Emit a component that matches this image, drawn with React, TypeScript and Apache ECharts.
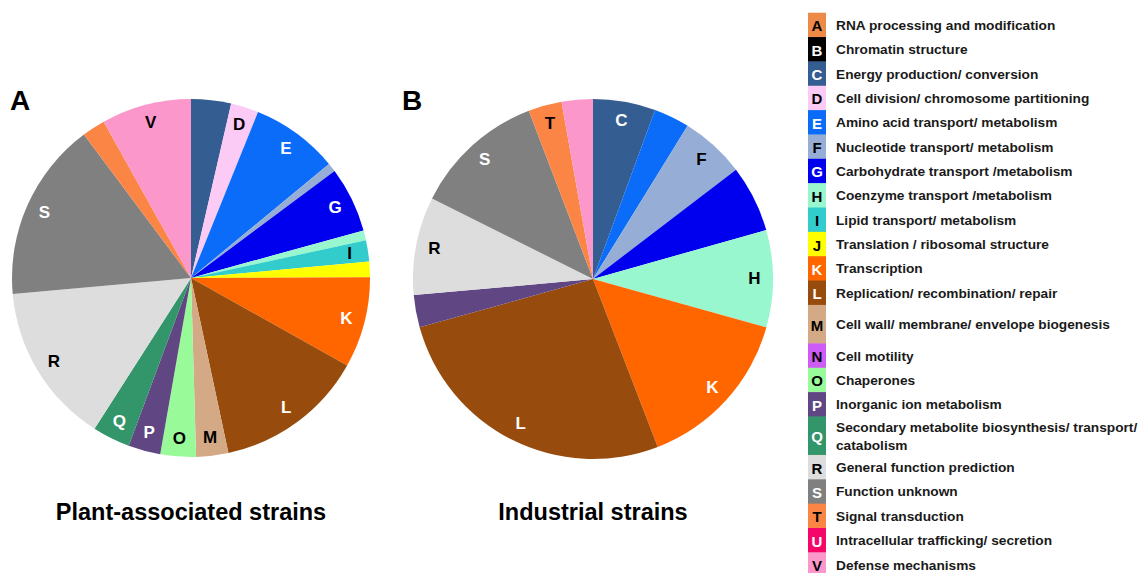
import React, { useEffect, useRef } from "react";
import * as echarts from "echarts";

// COG functional categories (legend order)
const cogCodes = ["A", "B", "C", "D", "E", "F", "G", "H", "I", "J", "K", "L", "M", "N", "O", "P", "Q", "R", "S", "T", "U", "V"];
const cogNames = [
  "RNA processing and modification",
  "Chromatin structure",
  "Energy production/ conversion",
  "Cell division/ chromosome partitioning",
  "Amino acid transport/ metabolism",
  "Nucleotide transport/ metabolism",
  "Carbohydrate transport /metabolism",
  "Coenzyme transport /metabolism",
  "Lipid transport/ metabolism",
  "Translation / ribosomal structure",
  "Transcription",
  "Replication/ recombination/ repair",
  "Cell wall/ membrane/ envelope biogenesis",
  "Cell motility",
  "Chaperones",
  "Inorganic ion metabolism",
  "Secondary metabolite biosynthesis/ transport/\ncatabolism",
  "General function prediction",
  "Function unknown",
  "Signal transduction",
  "Intracellular trafficking/ secretion",
  "Defense mechanisms",
];
const cogColors = [
  "#EE8A47", "#000000", "#345D91", "#FBCBF5", "#0A6CF8", "#96AED6", "#0000EE", "#98F7CE",
  "#33CCCC", "#FFFF00", "#FF6600", "#974B0C", "#D4A985", "#CC5CF5", "#99FA99", "#604682",
  "#33956A", "#DDDDDD", "#808080", "#FA8544", "#F5076A", "#FB97CA",
];
const cogLetterColors = [
  "#000", "#fff", "#fff", "#000", "#fff", "#000", "#fff", "#000",
  "#000", "#000", "#fff", "#fff", "#000", "#000", "#000", "#fff",
  "#fff", "#000", "#fff", "#000", "#fff", "#000",
];

// Plant-associated strains: share of genes per category (%)
const plantCodes = ["C", "D", "E", "F", "G", "H", "I", "J", "K", "L", "M", "O", "P", "Q", "R", "S", "T", "V"];
const plantValues = [3.6, 2.5, 7.9, 0.8, 5.9, 0.9, 1.9, 1.4, 8.2, 13.5, 2.9, 3.2, 2.9, 3.4, 14.5, 16.2, 2.1, 8.1];
const plantLabelled = ["D", "E", "G", "I", "K", "L", "M", "O", "P", "Q", "R", "S", "V"];

// Industrial strains: share of genes per category (%)
const industrialCodes = ["C", "E", "F", "G", "H", "K", "L", "P", "R", "S", "T", "V"];
const industrialValues = [5.6, 3.2, 5.8, 6.0, 8.7, 14.8, 26.5, 2.9, 8.8, 11.8, 3.0, 2.8];
const industrialLabelled = ["C", "F", "H", "K", "L", "R", "S", "T"];

const panelTitles = ["Plant-associated strains", "Industrial strains"];
const panelLetters = ["A", "B"];

const FONT = "'Liberation Sans', Arial, Helvetica, sans-serif";

function colorOf(code: string) {
  return cogColors[cogCodes.indexOf(code)];
}
function letterColorOf(code: string) {
  return cogLetterColors[cogCodes.indexOf(code)];
}

function pieSeries(codes: string[], values: number[], labelled: string[], center: number[], r: number) {
  const fill = {
    type: "pie",
    center,
    radius: [0, r],
    clockwise: true,
    startAngle: 90,
    silent: true,
    label: { show: false },
    labelLine: { show: false },
    itemStyle: { borderWidth: 0 },
    data: codes.map((c, i) => ({ name: c, value: values[i], itemStyle: { color: colorOf(c) } })),
  };
  // transparent ring carrying the category letters near the rim
  const labels = {
    type: "pie",
    center,
    radius: [r * 0.76, r],
    clockwise: true,
    startAngle: 90,
    silent: true,
    labelLine: { show: false },
    itemStyle: { color: "rgba(0,0,0,0)", borderWidth: 0 },
    data: codes.map((c, i) => ({
      name: c,
      value: values[i],
      label: {
        show: labelled.includes(c),
        position: "inside",
        formatter: "{b}",
        color: letterColorOf(c),
        fontSize: 17,
        fontWeight: "bold",
        fontFamily: FONT,
      },
    })),
  };
  return [fill, labels];
}

function legendGraphics() {
  const els: any[] = [];
  const boxX = 808;
  const boxW = 18;
  let y = 12.7;
  cogCodes.forEach((code, i) => {
    const tall = cogNames[i].includes("\n") || code === "M";
    const h = tall ? 38.5 : 24.35;
    els.push({
      type: "rect",
      shape: { x: boxX, y, width: boxW, height: h + 0.5 },
      style: { fill: cogColors[i] },
      silent: true,
    });
    els.push({
      type: "text",
      x: boxX + boxW / 2,
      y: y + h / 2 + 1,
      silent: true,
      style: {
        text: code,
        fill: cogLetterColors[i],
        fontSize: 15,
        fontWeight: "bold",
        fontFamily: FONT,
        align: "center",
        verticalAlign: "middle",
        textAlign: "center",
        textVerticalAlign: "middle",
      },
    });
    els.push({
      type: "text",
      x: 836,
      y: y + h / 2 + 0.5,
      silent: true,
      style: {
        text: cogNames[i],
        fill: "#1a1a1a",
        fontSize: 13.7,
        fontWeight: "bold",
        fontFamily: FONT,
        lineHeight: 18,
        align: "left",
        verticalAlign: "middle",
        textAlign: "left",
        textVerticalAlign: "middle",
      },
    });
    y += h;
  });
  return els;
}

function textEl(text: string, x: number, y: number, size: number, align: string) {
  return {
    type: "text",
    x,
    y,
    silent: true,
    style: {
      text,
      fill: "#000",
      fontSize: size,
      fontWeight: "bold",
      fontFamily: FONT,
      align,
      verticalAlign: "middle",
      textAlign: align,
      textVerticalAlign: "middle",
    },
  };
}

export default function App() {
  const ref = useRef<HTMLDivElement>(null);

  useEffect(() => {
    if (!ref.current) return;
    const chart = echarts.init(ref.current, undefined, { renderer: "svg" });
    const centerA = [191, 278];
    const centerB = [593, 279];
    chart.setOption({
      animation: false,
      backgroundColor: "#ffffff",
      series: [
        ...pieSeries(plantCodes, plantValues, plantLabelled, centerA, 179),
        ...pieSeries(industrialCodes, industrialValues, industrialLabelled, centerB, 180),
      ],
      graphic: [
        textEl(panelLetters[0], 10, 100, 28, "left"),
        textEl(panelLetters[1], 402, 100, 28, "left"),
        textEl(panelTitles[0], 191, 512, 23.5, "center"),
        textEl(panelTitles[1], 593, 512, 23.5, "center"),
        ...legendGraphics(),
      ],
    });
    return () => chart.dispose();
  }, []);

  return (
    <div
      ref={ref}
      style={{ position: "fixed", left: 0, top: 0, width: 1139, height: 573, background: "#fff" }}
    />
  );
}
